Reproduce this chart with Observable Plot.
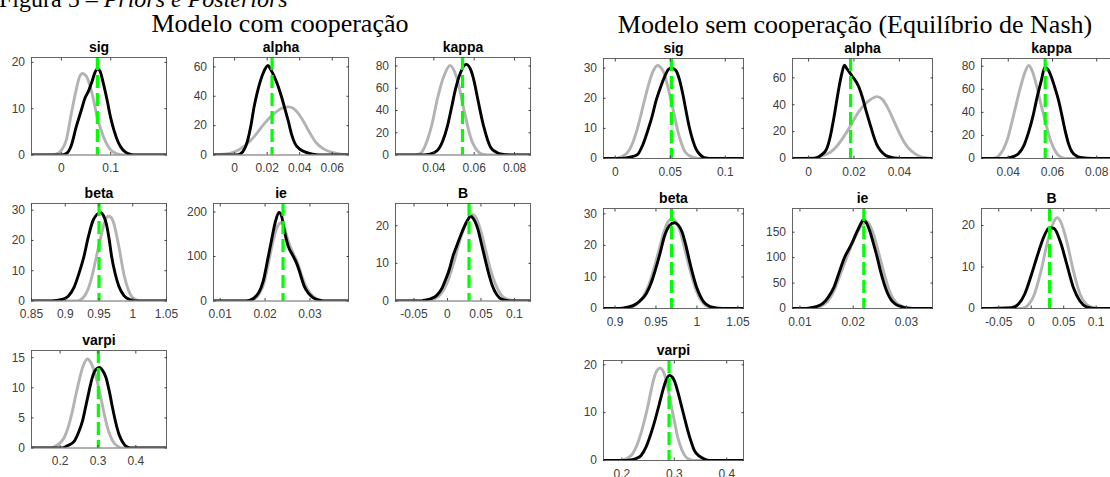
<!DOCTYPE html>
<html><head><meta charset="utf-8">
<script src="https://cdn.jsdelivr.net/npm/d3@7"></script>
<script src="https://cdn.jsdelivr.net/npm/@observablehq/plot@0.6"></script>
<style>
html,body{margin:0;padding:0;background:#fff;overflow:hidden;}
#root{position:relative;width:1110px;height:477px;overflow:hidden;background:#fff;}
.panel{position:absolute;}
</style></head><body><div id="root"></div>
<script>
// ---------- titles ----------
const figCaption = ["Figura 5 – ", "Priors e Posteriors"];
const groupTitles = ["Modelo com cooperação", "Modelo sem cooperação (Equilíbrio de Nash)"];
const paramNames = ["sig", "alpha", "kappa", "beta", "ie", "B", "varpi"];

// ---------- Modelo com cooperação ----------
const comSigPrior = [[-0.06,0],[-0.02,0],[-0.01,0.2],[0,1],[0.01,3.2],[0.02,8.8],[0.03,14],[0.037,16.9],[0.043,17.6],[0.05,17.1],[0.058,15],[0.065,12],[0.073,8],[0.08,5.5],[0.09,2.8],[0.1,1.1],[0.11,0.35],[0.12,0.08],[0.13,0],[0.213,0]];
const comSigPost = [[-0.06,0],[0,0],[0.01,0.3],[0.02,2],[0.03,6],[0.04,9.5],[0.048,12.3],[0.055,13.8],[0.062,15.8],[0.068,17.8],[0.073,18.6],[0.078,18.2],[0.085,15.5],[0.093,11.7],[0.1,8],[0.107,5.2],[0.115,2.8],[0.12,1.8],[0.13,0.6],[0.14,0.15],[0.15,0],[0.213,0]];
const comAlphaPrior = [[-0.013,0.2],[-0.005,0.8],[0,2.2],[0.006,6],[0.012,12.5],[0.018,21],[0.024,28],[0.03,32.3],[0.033,32.8],[0.036,31.8],[0.039,28.5],[0.042,23.5],[0.046,15.5],[0.05,8.5],[0.055,4],[0.06,1.7],[0.065,0.6],[0.07,0.2]];
const comAlphaPost = [[-0.013,0],[0,0],[0.003,0.5],[0.006,4],[0.008,10],[0.01,20],[0.012,33],[0.014,43],[0.016,51],[0.018,57],[0.0205,61],[0.022,58.5],[0.0245,53],[0.027,46],[0.029,39],[0.031,31],[0.033,23],[0.035,14],[0.037,8],[0.04,4],[0.044,1.8],[0.048,0.5],[0.052,0],[0.07,0]];
const comKappaPrior = [[0.021,0],[0.031,0],[0.0335,1.5],[0.0367,13],[0.039,27],[0.0417,50],[0.045,71],[0.048,80.5],[0.0516,68],[0.055,40],[0.0582,16],[0.0615,4],[0.064,0.8],[0.067,0],[0.0879,0]];
const comKappaPost = [[0.021,0],[0.035,0],[0.038,0.8],[0.0417,4],[0.0445,13],[0.0466,25],[0.0487,42],[0.0507,59],[0.0532,74],[0.056,81.5],[0.0582,77],[0.06,66],[0.0615,52.6],[0.0648,25],[0.0681,7],[0.071,2.5],[0.073,1],[0.078,0],[0.0879,0]];
const comBetaPrior = [[0.85,0],[0.918,0],[0.925,0.8],[0.9313,2.7],[0.937,6],[0.942,10.4],[0.9475,16],[0.9526,21],[0.958,25.8],[0.9633,28],[0.967,27.8],[0.9714,26],[0.9794,18],[0.9875,8.2],[0.993,4],[0.998,1.6],[1.005,0.4],[1.012,0],[1.05,0]];
const comBetaPost = [[0.85,0],[0.88,0],[0.895,0.5],[0.9045,1.6],[0.913,4.5],[0.9206,9.3],[0.928,15],[0.934,21],[0.942,27],[0.9526,29.2],[0.957,28],[0.9607,25.6],[0.965,20.5],[0.9687,14.7],[0.974,9],[0.9794,4.9],[0.987,1.8],[0.9955,0.5],[1.005,0],[1.05,0]];
const comIePrior = [[0.0085,0],[0.0155,0],[0.017,2],[0.0188,18],[0.0198,42],[0.0208,88],[0.0218,135],[0.0228,168],[0.0236,176],[0.0243,165],[0.025,140],[0.026,112],[0.027,92],[0.028,62],[0.029,35],[0.03,18],[0.031,8],[0.0325,2],[0.034,0],[0.0386,0]];
const comIePost = [[0.0085,0],[0.015,0],[0.0165,1.5],[0.0186,19],[0.0196,45],[0.0206,94],[0.0215,140],[0.0223,178],[0.0231,199],[0.0237,190],[0.0243,158],[0.0251,125],[0.0262,102],[0.0268,90],[0.0275,72],[0.0281,52],[0.0287,34],[0.0297,17],[0.0307,7.5],[0.032,2],[0.0335,0],[0.0386,0]];
const comBPrior = [[-0.0776,0],[-0.03,0],[-0.02,0.5],[-0.01,1.8],[0,5],[0.01,10.5],[0.02,17],[0.03,21.5],[0.037,23],[0.043,22],[0.05,18.5],[0.057,13.5],[0.064,8.5],[0.071,4.8],[0.078,2.2],[0.085,0.8],[0.095,0.2],[0.105,0],[0.124,0]];
const comBPost = [[-0.0776,0],[-0.04,0],[-0.0348,0.2],[-0.025,0.6],[-0.016,1.5],[-0.0085,3.3],[-0.0027,5.7],[0.003,8.5],[0.008,11.8],[0.0135,14.5],[0.0188,17],[0.0245,19.5],[0.0296,21.3],[0.0345,22.5],[0.039,21.8],[0.0457,18.9],[0.051,15],[0.0564,11],[0.062,7],[0.0672,4],[0.074,1.6],[0.0806,0.5],[0.09,0.1],[0.097,0],[0.124,0]];
const comVarpiPrior = [[0.1244,0],[0.175,0],[0.19,0.4],[0.2106,1.7],[0.222,3.6],[0.2327,6.2],[0.2415,8.8],[0.2502,11.2],[0.26,13.5],[0.2724,14.8],[0.281,14.2],[0.29,12.8],[0.299,10.8],[0.3075,8.4],[0.316,5.8],[0.3252,3.4],[0.334,1.8],[0.3427,0.8],[0.352,0.3],[0.362,0],[0.481,0]];
const comVarpiPost = [[0.1244,0],[0.205,0],[0.22,0.4],[0.237,1.1],[0.248,2.5],[0.2592,4.5],[0.268,7],[0.2766,9.5],[0.284,11.5],[0.29,12.6],[0.297,13.2],[0.304,13.4],[0.312,12.9],[0.3207,11.8],[0.33,9.4],[0.3384,6.7],[0.347,4.2],[0.3559,2.2],[0.365,1],[0.3736,0.3],[0.385,0],[0.481,0]];
const comModes = [0.073, 0.023, 0.0542, 0.95, 0.024, 0.0322, 0.301];
const comXDomains = [[-0.0604,0.213],[-0.013,0.07],[0.021,0.0879],[0.85,1.05],[0.0085,0.0386],[-0.0776,0.124],[0.1244,0.481]];
const comYMax = [21.05, 66.4, 87.7, 32.2, 219, 25.9, 16.2];
const comXTicks = [[0,0.1],[0,0.02,0.04,0.06],[0.04,0.06,0.08],[0.85,0.9,0.95,1,1.05],[0.01,0.02,0.03],[-0.05,0,0.05,0.1],[0.2,0.3,0.4]];
const comYTicks = [[0,10,20],[0,20,40,60],[0,20,40,60,80],[0,10,20,30],[0,100,200],[0,10,20],[0,5,10,15]];

// ---------- Modelo sem cooperação ----------
const semSigPrior = [[-0.0107,0],[0,0],[0.0022,0.1],[0.0065,0.7],[0.0113,2],[0.016,5.3],[0.0204,10.3],[0.024,15.5],[0.028,21.4],[0.034,28.7],[0.0386,30.9],[0.0425,29.6],[0.0447,28],[0.048,23.5],[0.0507,19.2],[0.054,14],[0.0568,9.2],[0.06,5.2],[0.0628,2.6],[0.067,1],[0.072,0.3],[0.078,0],[0.1166,0]];
const semSigPost = [[-0.0107,0],[0.005,0],[0.0082,0.1],[0.014,0.5],[0.0204,1.4],[0.025,4.5],[0.0295,9.2],[0.0335,14],[0.0371,19.2],[0.041,23.5],[0.0447,27],[0.048,29.4],[0.0507,30.1],[0.053,29.8],[0.0553,29.2],[0.0585,26],[0.0614,21.4],[0.0645,15.5],[0.0674,10.3],[0.0705,6],[0.0735,3.1],[0.077,1.3],[0.081,0.3],[0.09,0],[0.1166,0]];
const semAlphaPrior = [[-0.0071,0],[0,0.2],[0.0031,0.8],[0.0063,2.2],[0.0095,4.6],[0.0126,9.5],[0.0158,17],[0.019,26],[0.0222,35],[0.0246,40],[0.027,43.5],[0.0301,46],[0.0325,44],[0.0349,37.7],[0.0373,29],[0.0397,20],[0.042,12.5],[0.0444,7],[0.0468,3.6],[0.0492,1.5],[0.052,0.5],[0.0546,0.2]];
const semAlphaPost = [[-0.0071,0],[0.002,0],[0.0031,0.3],[0.0055,2.5],[0.0079,7],[0.0095,16],[0.0111,30],[0.0123,42],[0.0134,53],[0.0146,63],[0.0158,69.5],[0.0168,67],[0.019,61.8],[0.0222,53],[0.0238,45],[0.0254,35],[0.027,26],[0.0286,17],[0.03,10.5],[0.0317,5.8],[0.034,2.3],[0.0365,0.8],[0.039,0.2],[0.042,0],[0.0546,0]];
const semKappaPrior = [[0.0279,0],[0.032,0],[0.0342,0.5],[0.036,3],[0.038,8.8],[0.04,19],[0.0417,32],[0.0436,47],[0.0455,61.6],[0.0474,74],[0.0493,80.6],[0.051,75],[0.053,61.6],[0.0549,46],[0.0568,32],[0.0587,18],[0.0606,8.8],[0.0625,3],[0.0643,0.8],[0.066,0],[0.0912,0]];
const semKappaPost = [[0.0279,0],[0.0385,0],[0.04,0.4],[0.0425,1.8],[0.0447,4.4],[0.047,11],[0.0493,23.5],[0.0512,37],[0.053,52.8],[0.055,68],[0.0565,79],[0.058,77],[0.0598,69],[0.0613,60],[0.0628,50],[0.0643,37],[0.0658,23.5],[0.0673,12.5],[0.0688,5.9],[0.071,2],[0.0734,0.6],[0.078,0],[0.0912,0]];
const semBetaPrior = [[0.886,0],[0.91,0],[0.918,0.3],[0.925,1],[0.932,2.7],[0.9381,5.5],[0.944,9.5],[0.949,14],[0.955,19.8],[0.96,24.5],[0.965,27.6],[0.97,28.5],[0.975,27.3],[0.98,24],[0.985,19],[0.9907,13],[0.995,9],[0.9995,5.5],[1.005,2.6],[1.01,1.1],[1.017,0.3],[1.025,0],[1.0568,0]];
const semBetaPost = [[0.886,0],[0.905,0],[0.915,0.4],[0.9227,1],[0.93,2.3],[0.9381,4.7],[0.944,8],[0.949,12],[0.955,17.5],[0.96,22.6],[0.9666,26.3],[0.9725,27.2],[0.977,26.5],[0.982,24.2],[0.9865,20],[0.9907,15.3],[0.995,10.8],[0.9995,6.8],[1.004,4],[1.0083,2.1],[1.014,0.9],[1.019,0.4],[1.027,0.1],[1.035,0],[1.0568,0]];
const semIePrior = [[0.0086,0],[0.0115,0],[0.0125,1],[0.014,5],[0.0153,15],[0.0164,35],[0.0175,65],[0.0186,95],[0.0197,125],[0.0208,150],[0.0218,166],[0.0226,170],[0.0233,160],[0.024,140],[0.0247,113],[0.0254,85],[0.0261,58],[0.0268,35],[0.0276,18],[0.0285,8],[0.0295,3],[0.0305,0.8],[0.0315,0],[0.0349,0]];
const semIePost = [[0.0086,0],[0.011,0],[0.0116,0.5],[0.013,3.5],[0.0143,10],[0.0153,22],[0.0164,42],[0.0174,72],[0.0184,101],[0.0191,115],[0.0197,127],[0.0208,153],[0.0214,166],[0.0219,174],[0.0225,168],[0.0231,153],[0.0238,128],[0.0245,101],[0.0251,75],[0.0258,49],[0.0265,29],[0.0272,16],[0.028,8],[0.0292,3.3],[0.03,1.2],[0.031,0.3],[0.032,0],[0.0349,0]];
const semBPrior = [[-0.0766,0],[-0.015,0],[-0.005,0.8],[0.005,3.5],[0.015,9],[0.025,16],[0.035,21],[0.04,21.9],[0.045,21],[0.055,16],[0.065,9],[0.075,3.5],[0.085,1],[0.095,0.2],[0.105,0],[0.139,0]];
const semBPost = [[-0.0766,0],[-0.03,0.2],[-0.02,1],[-0.01,3.5],[0,8],[0.01,13],[0.02,17.5],[0.028,19.5],[0.035,19.3],[0.045,16],[0.055,10.5],[0.065,5],[0.075,1.8],[0.085,0.4],[0.1,0],[0.139,0]];
const semVarpiPrior = [[0.165,0],[0.195,0],[0.2045,0.2],[0.212,0.6],[0.2204,1.4],[0.228,3],[0.2363,5.6],[0.2427,8.2],[0.2491,11.1],[0.2555,14.5],[0.2618,17.4],[0.2675,18.9],[0.2733,19.3],[0.279,18.6],[0.2841,17],[0.289,14.5],[0.2937,11.8],[0.3,8.3],[0.3065,4.9],[0.3145,2.2],[0.3224,0.7],[0.33,0.2],[0.34,0],[0.432,0]];
const semVarpiPost = [[0.165,0],[0.21,0],[0.2172,0.1],[0.227,0.4],[0.2363,1],[0.246,2.8],[0.2554,5.6],[0.2634,8.5],[0.2714,11.8],[0.2778,14.5],[0.2841,16.7],[0.2905,17.8],[0.2955,17.5],[0.3,16.7],[0.3064,14.5],[0.3128,11.8],[0.3192,9],[0.3256,6.3],[0.3319,4],[0.3382,2.1],[0.3478,0.9],[0.3574,0.3],[0.367,0],[0.432,0]];
const semModes = [0.051, 0.0185, 0.0567, 0.969, 0.022, 0.0282, 0.29];
const semXDomains = [[-0.0107,0.1166],[-0.0071,0.0546],[0.0279,0.0912],[0.886,1.0568],[0.0086,0.0349],[-0.0766,0.139],[0.165,0.432]];
const semYMax = [33.2, 74.4, 86.7, 31.7, 196.6, 24.1, 20.9];
const semXTicks = [[0,0.05,0.1],[0,0.02,0.04],[0.04,0.06,0.08],[0.9,0.95,1,1.05],[0.01,0.02,0.03],[-0.05,0,0.05,0.1],[0.2,0.3,0.4]];
const semYTicks = [[0,10,20,30],[0,20,40,60],[0,20,40,60,80],[0,10,20,30],[0,50,100,150],[0,10,20],[0,10,20]];

// ---------- layout ----------
const groups = [
  {priors:[comSigPrior,comAlphaPrior,comKappaPrior,comBetaPrior,comIePrior,comBPrior,comVarpiPrior],
   posts:[comSigPost,comAlphaPost,comKappaPost,comBetaPost,comIePost,comBPost,comVarpiPost],
   modes:comModes, xd:comXDomains, ym:comYMax, xt:comXTicks, yt:comYTicks,
   cols:[31,213,395], rows:[57,203,349.5], w:135, h:97.5},
  {priors:[semSigPrior,semAlphaPrior,semKappaPrior,semBetaPrior,semIePrior,semBPrior,semVarpiPrior],
   posts:[semSigPost,semAlphaPost,semKappaPost,semBetaPost,semIePost,semBPost,semVarpiPost],
   modes:semModes, xd:semXDomains, ym:semYMax, xt:semXTicks, yt:semYTicks,
   cols:[602.5,792,981], rows:[57.5,208,360], w:140, h:100}
];

const root = document.getElementById("root");
const fmt = d => String(d);
const ml = 46, mr = 12, mt = 26, mb = 28;

groups.forEach(g => {
  paramNames.forEach((name, i) => {
    const fx = g.cols[i % 3], fy = g.rows[Math.floor(i / 3)];
    const chart = Plot.plot({
      width: g.w + ml + mr, height: g.h + mt + mb,
      marginLeft: ml, marginRight: mr, marginTop: mt, marginBottom: mb,
      x: {domain: g.xd[i]},
      y: {domain: [0, g.ym[i]]},
      style: {fontFamily: "'Liberation Sans', Arial, sans-serif", fontSize: "12px", color: "#404040", background: "transparent", overflow: "visible"},
      marks: [
        Plot.line(g.priors[i], {x: d => d[0], y: d => d[1], stroke: "#b3b3b3", strokeWidth: 2.9, curve: "monotone-x", clip: true}),
        Plot.line(g.posts[i], {x: d => d[0], y: d => d[1], stroke: "#000", strokeWidth: 2.9, curve: "monotone-x", clip: true}),
        Plot.ruleX([g.modes[i]], {stroke: "#00ff00", strokeWidth: 3.2, strokeDasharray: "13,5"}),
        Plot.frame({stroke: "#555", strokeWidth: 0.9}),
        Plot.axisX({ticks: g.xt[i], tickSize: -2.5, tickPadding: 11, tickFormat: fmt, label: null}),
        Plot.axisX({ticks: g.xt[i], anchor: "top", tickSize: -2.5, tickFormat: () => "", label: null}),
        Plot.axisY({ticks: g.yt[i], tickSize: -2.5, tickPadding: 9, tickFormat: fmt, label: null}),
        Plot.axisY({ticks: g.yt[i], anchor: "right", tickSize: -2.5, tickFormat: () => "", label: null}),
        Plot.text([name], {frameAnchor: "top", dy: -6, lineAnchor: "bottom", fontWeight: "bold", fontSize: 14, fill: "#000"})
      ]
    });
    chart.classList.add("panel");
    chart.style.left = (fx - ml) + "px";
    chart.style.top = (fy - mt) + "px";
    root.appendChild(chart);
  });
});

// ---------- headings ----------
const ns = "http://www.w3.org/2000/svg";
const hs = document.createElementNS(ns, "svg");
hs.setAttribute("width", 1110); hs.setAttribute("height", 50);
hs.style.position = "absolute"; hs.style.left = "0px"; hs.style.top = "0px"; hs.style.overflow = "visible";
function addText(x, y, size, anchor, parts) {
  const t = document.createElementNS(ns, "text");
  t.setAttribute("x", x); t.setAttribute("y", y);
  t.setAttribute("font-family", "'Liberation Serif', 'Times New Roman', serif");
  t.setAttribute("font-size", size); t.setAttribute("text-anchor", anchor); t.setAttribute("fill", "#000");
  parts.forEach(([txt, italic]) => {
    const s = document.createElementNS(ns, "tspan");
    if (italic) s.setAttribute("font-style", "italic");
    s.textContent = txt; t.appendChild(s);
  });
  hs.appendChild(t);
}
addText(-1, 7, 24, "start", [[figCaption[0], false], [figCaption[1], true]]);
addText(280, 31.7, 26, "middle", [[groupTitles[0], false]]);
addText(855, 32.5, 26, "middle", [[groupTitles[1], false]]);
root.appendChild(hs);
</script></body></html>
